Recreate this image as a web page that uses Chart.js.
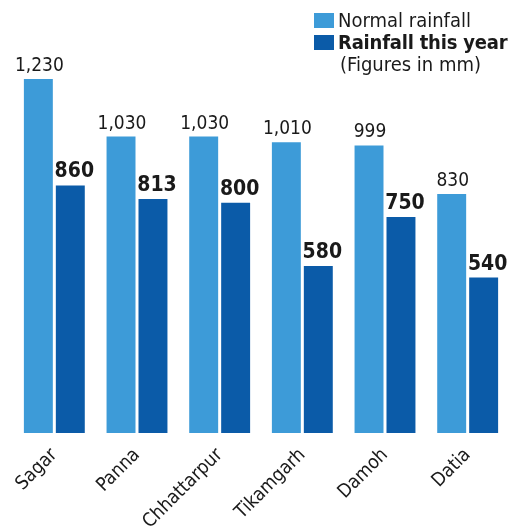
<!DOCTYPE html>
<html>
<head>
<meta charset="utf-8">
<script src="https://cdn.jsdelivr.net/npm/chart.js@4.4.0/dist/chart.umd.min.js"></script>
<style>
  html, body { margin: 0; padding: 0; background: #fff; }
  #wrap { position: relative; width: 512px; height: 529px; }
  .legend { position: absolute; left: 314px; top: 9px; font-family: "DejaVu Sans Condensed", "Liberation Sans Narrow", "DejaVu Sans", sans-serif; font-size: 20px; color: #1a1a1a; line-height: 22px; }
  .legend .row { display: flex; align-items: center; white-space: nowrap; }
  .legend .sw { width: 20px; height: 15px; margin-right: 4px; }
  .legend .note { padding-left: 26px; }
</style>
</head>
<body>
<div id="wrap">
  <canvas id="rainChart" width="512" height="529"></canvas>
  <div class="legend">
    <div class="row"><span class="sw" style="background:#3d9bd8"></span>Normal rainfall</div>
    <div class="row" style="font-weight:bold; letter-spacing:-0.2px"><span class="sw" style="background:#0b5ba8"></span>Rainfall this year</div>
    <div class="note">(Figures in mm)</div>
  </div>
</div>
<script>
const districts = ['Sagar', 'Panna', 'Chhattarpur', 'Tikamgarh', 'Damoh', 'Datia'];
const normalRainfall = [1230, 1030, 1030, 1010, 999, 830];
const rainfallThisYear = [860, 813, 800, 580, 750, 540];

const fontFamily = '"DejaVu Sans Condensed", "Liberation Sans Narrow", "DejaVu Sans", sans-serif';

// values above each bar
const valueLabels = {
    id: 'valueLabels',
    afterDatasetsDraw: (chart) => {
        const { ctx } = chart;
        chart.data.datasets.forEach((dataset, i) => {
            const meta = chart.getDatasetMeta(i);
            ctx.save();
            ctx.fillStyle = '#1a1a1a';
            ctx.textAlign = 'center';
            ctx.textBaseline = 'alphabetic';
            ctx.font = (i === 1 ? 'bold 21px ' : '19px ') + fontFamily;
            meta.data.forEach((bar, j) => {
                const v = dataset.data[j];
                ctx.fillText(v.toLocaleString('en-US'), bar.x + (i === 1 ? 4 : 1), bar.y - 8);
            });
            ctx.restore();
        });
    }
};

const ctx = document.getElementById('rainChart').getContext('2d');

const chart = new Chart(ctx, {
    type: 'bar',
    data: {
        labels: districts,
        datasets: [
            {
                label: 'Normal rainfall',
                data: normalRainfall,
                backgroundColor: '#3d9bd8',
                categoryPercentage: 0.773,
                barPercentage: 0.906
            },
            {
                label: 'Rainfall this year',
                data: rainfallThisYear,
                backgroundColor: '#0b5ba8',
                categoryPercentage: 0.773,
                barPercentage: 0.906
            }
        ]
    },
    options: {
        responsive: false,
        animation: false,
        layout: {
            padding: { left: 13, right: 3, top: 30, bottom: 0 }
        },
        scales: {
            y: {
                display: false,
                min: 0,
                max: 1400
            },
            x: {
                grid: { display: false },
                border: { display: false },
                ticks: {
                    color: '#1a1a1a',
                    font: { family: fontFamily, size: 19 },
                    minRotation: 45,
                    maxRotation: 45,
                    padding: 3
                },
                afterFit: (scale) => {
                    scale.height = 96;
                }
            }
        },
        plugins: {
            legend: { display: false },
            tooltip: { enabled: false }
        }
    },
    plugins: [valueLabels]
});
</script>
</body>
</html>
